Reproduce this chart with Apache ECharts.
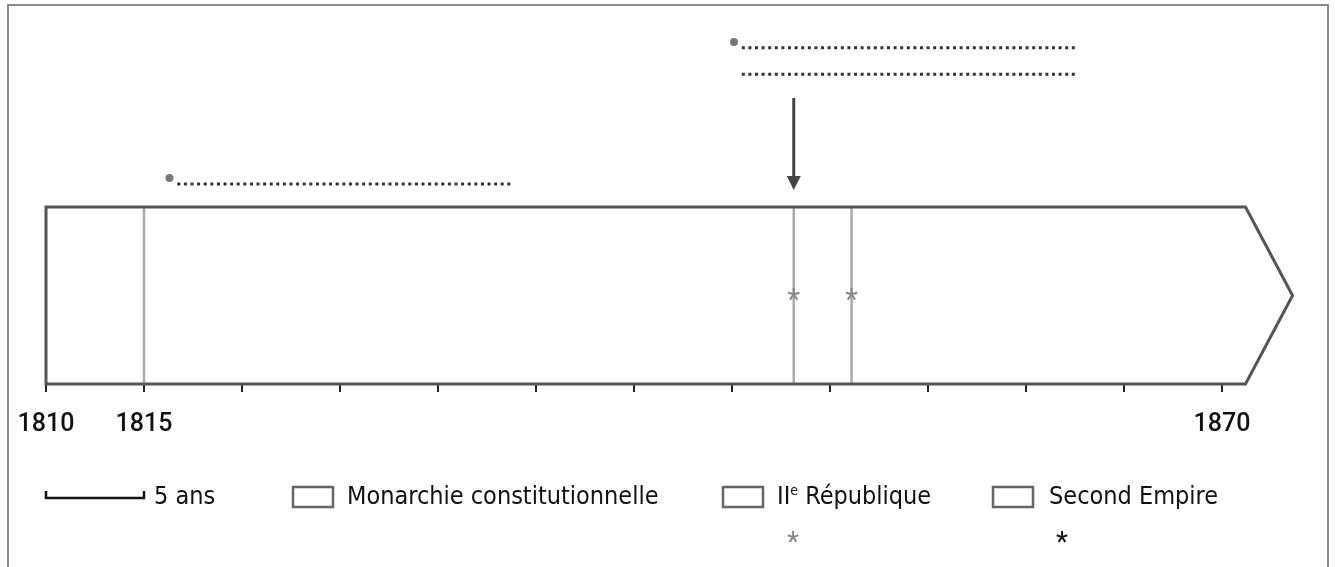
<!DOCTYPE html>
<html><head><meta charset="utf-8">
<script src="https://cdn.jsdelivr.net/npm/echarts@6/dist/echarts.min.js"></script>
<style>html,body{margin:0;padding:0;background:#fff}#c{width:1335px;height:567px}</style>
</head><body><div id="c"></div>
<script>
// ---- data ----
const tickYears = [1810,1815,1820,1825,1830,1835,1840,1845,1850,1855,1860,1865,1870];
const labelYears = [1810,1815,1870];
const bandStart = [1810];
const bandEnd = [1871.2];
const bandTip = [1873.6];
const eventYears = [1815, 1848.15, 1851.1];
const starYears = [1848.15, 1851.1];
const blankStart = [1816.7, 1845.5, 1845.5];
const blankEnd = [1833.7, 1862.5, 1862.5];
const blankLevel = [1.13, 1.90, 1.75];
const bulletYears = [1816.3, 1845.1];
const bulletLevel = [1.164, 1.932];
const arrowYear = [1848.15];
const arrowFrom = [1.616];
const arrowTo = [1.096];
const legendLabels = ['5 ans', 'Monarchie constitutionnelle', 'II{sup|e} République', 'Second Empire'];
const scaleYears = [1810, 1815];

const FONT = "Roboto, 'DejaVu Sans', sans-serif";
const NARROW = "'Liberation Sans Narrow', 'DejaVu Sans Condensed', Roboto, sans-serif";
const chart = echarts.init(document.getElementById('c'), null, {renderer: 'canvas'});

const bandData = bandStart.map((s, i) => [s, bandEnd[i], bandTip[i]]);
const blankData = blankStart.map((s, i) => [s, blankEnd[i], blankLevel[i]]);
const bulletData = bulletYears.map((y, i) => [y, bulletLevel[i]]);
const arrowData = arrowYear.map((y, i) => [y, arrowFrom[i], arrowTo[i]]);

const option = {
  animation: false,
  backgroundColor: '#fff',
  grid: {left: 46, width: 1274, top: 30, height: 354},
  xAxis: {
    type: 'value', min: 1810, max: 1875, interval: 5,
    axisLine: {show: false},
    splitLine: {show: false},
    axisTick: {show: true, customValues: tickYears, length: 8, lineStyle: {color: '#222', width: 2}},
    axisLabel: {customValues: labelYears, margin: 28, formatter: v => String(v), fontFamily: FONT, fontSize: 25, fontWeight: 500, color: '#111'}
  },
  yAxis: {type: 'value', min: 0, max: 2, show: false},
  series: [
    { // event vertical lines
      type: 'custom', z: 2, data: eventYears.map(y => [y]),
      renderItem(params, api) {
        const a = api.coord([api.value(0), 0]), b = api.coord([api.value(0), 1]);
        return {type: 'line', shape: {x1: a[0], y1: a[1], x2: b[0], y2: b[1]}, style: {stroke: '#aaa', lineWidth: 2.5}};
      }
    },
    { // asterisks
      type: 'custom', z: 3, data: starYears.map(y => [y, 0.5]),
      renderItem(params, api) {
        const p = api.coord([api.value(0), api.value(1)]);
        return {type: 'text', x: p[0], y: p[1] + 6, style: {text: '*', fill: '#888', font: '30px ' + FONT, align: 'center', verticalAlign: 'middle'}};
      }
    },
    { // band outline
      type: 'custom', z: 4, data: bandData,
      renderItem(params, api) {
        const s = api.value(0), e = api.value(1), t = api.value(2);
        const pts = [api.coord([s, 0]), api.coord([e, 0]), api.coord([t, 0.5]), api.coord([e, 1]), api.coord([s, 1])];
        return {type: 'polygon', shape: {points: pts}, style: {fill: 'none', stroke: '#555', lineWidth: 3, lineJoin: 'miter'}};
      }
    },
    { // dotted blank lines
      type: 'custom', z: 5, data: blankData,
      renderItem(params, api) {
        const a = api.coord([api.value(0), api.value(2)]), b = api.coord([api.value(1), api.value(2)]);
        return {type: 'line', shape: {x1: a[0], y1: a[1], x2: b[0], y2: b[1]}, style: {stroke: '#333', lineWidth: 3, lineDash: [3, 3.6]}};
      }
    },
    { // bullets
      type: 'scatter', z: 5, data: bulletData, symbol: 'circle', symbolSize: 8,
      itemStyle: {color: '#555'}, silent: true
    },
    { // arrow
      type: 'custom', z: 5, data: arrowData,
      renderItem(params, api) {
        const a = api.coord([api.value(0), api.value(1)]), b = api.coord([api.value(0), api.value(2)]);
        const h = 14, w = 7;
        return {type: 'group', children: [
          {type: 'line', shape: {x1: a[0], y1: a[1], x2: b[0], y2: b[1] - h + 2}, style: {stroke: '#444', lineWidth: 3}},
          {type: 'polygon', shape: {points: [[b[0] - w, b[1] - h], [b[0] + w, b[1] - h], [b[0], b[1]]]}, style: {fill: '#444'}}
        ]};
      }
    }
  ]
};
chart.setOption(option);

// legend (layout) using the axis scale for the 5-year scale bar
const x0 = chart.convertToPixel({xAxisIndex: 0}, scaleYears[0]);
const x1 = chart.convertToPixel({xAxisIndex: 0}, scaleYears[1]);
const LY = 497;
const txt = (x, t) => ({type: 'text', x: x, y: LY, style: {text: t, fill: '#111', font: '25px ' + NARROW, verticalAlign: 'middle'}});
const box = x => ({type: 'rect', shape: {x: x, y: LY - 10, width: 40, height: 20}, style: {fill: '#fff', stroke: '#666', lineWidth: 2.5}});
chart.setOption({
  graphic: [
    {type: 'rect', shape: {x: 8, y: 5, width: 1320, height: 600}, style: {fill: 'none', stroke: '#8a8a8a', lineWidth: 2}, silent: true},
    {type: 'polyline', shape: {points: [[x0, LY - 6], [x0, LY + 1], [x1, LY + 1], [x1, LY - 6]]}, style: {stroke: '#111', lineWidth: 2.5, fill: 'none'}},
    txt(x1 + 10, legendLabels[0]),
    box(293), txt(347, legendLabels[1]),
    box(723), {type: 'text', x: 777, y: LY, style: {text: legendLabels[2], fill: '#111', font: '25px ' + NARROW, verticalAlign: 'middle', rich: {sup: {fontSize: 14, verticalAlign: 'top', padding: [0, 0, 12, 0], fill: '#111', fontFamily: NARROW}}}},
    box(993), txt(1049, legendLabels[3]),
    {type: 'text', x: 793, y: LY + 47, style: {text: '*', fill: '#888', font: '28px ' + FONT, align: 'center', verticalAlign: 'middle'}},
    {type: 'text', x: 1062, y: LY + 47, style: {text: '*', fill: '#111', font: '28px ' + FONT, align: 'center', verticalAlign: 'middle'}}
  ]
});
</script></body></html>
